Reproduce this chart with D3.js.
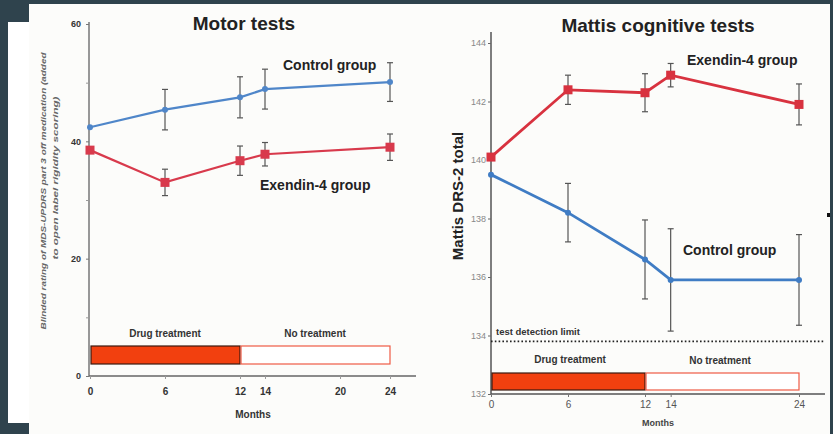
<!DOCTYPE html>
<html>
<head>
<meta charset="utf-8">
<script src="https://cdn.jsdelivr.net/npm/d3@7"></script>
<style>
body { margin: 0; background: #2f434d; }
svg { display: block; font-family: "Liberation Sans", Arial, sans-serif; }
</style>
</head>
<body>
<svg id="chart" width="833" height="434"></svg>
<script>
// data
var months = [0, 6, 12, 14, 24];

var motorControl = [42.4, 45.4, 47.5, 48.9, 50.1];
var motorControlErr = [0, 3.45, 3.5, 3.4, 3.3];
var motorExendin = [38.5, 33.0, 36.7, 37.8, 39.0];
var motorExendinErr = [0, 2.25, 2.5, 2.0, 2.25];

var mattisExendin = [140.1, 142.4, 142.3, 142.9, 141.9];
var mattisExendinErr = [0, 0.5, 0.65, 0.4, 0.7];
var mattisControl = [139.5, 138.2, 136.6, 135.9, 135.9];
var mattisControlErr = [0, 1.0, 1.35, 1.75, 1.55];

var motorYTicks = [0, 20, 40, 60];
var motorYMinor = [10, 30, 50];
var motorXTicks = [0, 6, 12, 14, 20, 24];
var mattisYTicks = [132, 134, 136, 138, 140, 142, 144];
var mattisXTicks = [0, 6, 12, 14, 24];

var detectionLimit = 133.8;
var drugPeriod = [0, 12];
var noDrugPeriod = [12, 24];

var blue = "#4f86c9";
var red = "#d83a4c";
var blue2 = "#3f7cc4";
var red2 = "#d8323f";
var barRed = "#f2400f";

var svg = d3.select("#chart");

// backdrop panels
svg.append("rect").attr("x", 8).attr("y", 22).attr("width", 21).attr("height", 401).attr("fill", "#ffffff");
svg.append("rect").attr("x", 29).attr("y", 4).attr("width", 801).attr("height", 430).attr("fill", "#fcfcfa");
svg.append("rect").attr("x", 827).attr("y", 213).attr("width", 3).attr("height", 4).attr("fill", "#111");

function drawSeries(g, x, y, vals, errs, color, shape, lw) {
	var pts = months.map(function(m, i) { return {m: m, v: vals[i], e: errs[i]}; });
	var eb = g.append("g").attr("stroke", "#555").attr("stroke-width", 1.2);
	pts.filter(function(d) { return d.e > 0; }).forEach(function(d) {
		eb.append("line").attr("x1", x(d.m)).attr("x2", x(d.m)).attr("y1", y(d.v - d.e)).attr("y2", y(d.v + d.e));
		eb.append("line").attr("x1", x(d.m) - 3).attr("x2", x(d.m) + 3).attr("y1", y(d.v - d.e)).attr("y2", y(d.v - d.e));
		eb.append("line").attr("x1", x(d.m) - 3).attr("x2", x(d.m) + 3).attr("y1", y(d.v + d.e)).attr("y2", y(d.v + d.e));
	});
	var line = d3.line().x(function(d) { return x(d.m); }).y(function(d) { return y(d.v); });
	g.append("path").datum(pts).attr("d", line).attr("fill", "none")
		.attr("stroke", color).attr("stroke-width", lw);
	if (shape == "square") {
		g.append("g").selectAll("rect").data(pts).enter().append("rect")
			.attr("x", function(d) { return x(d.m) - 4.5; })
			.attr("y", function(d) { return y(d.v) - 4.5; })
			.attr("width", 9).attr("height", 9).attr("fill", color);
	} else {
		g.append("g").selectAll("circle").data(pts).enter().append("circle")
			.attr("cx", function(d) { return x(d.m); })
			.attr("cy", function(d) { return y(d.v); })
			.attr("r", 3).attr("fill", color);
	}
}

function drawTreatment(g, x, yTop, h) {
	g.append("rect").attr("x", x(drugPeriod[0]) + 1).attr("y", yTop)
		.attr("width", x(drugPeriod[1]) - x(drugPeriod[0]) - 1).attr("height", h)
		.attr("fill", barRed).attr("stroke", "#3a1a10").attr("stroke-width", 1.2);
	g.append("rect").attr("x", x(noDrugPeriod[0]) + 1).attr("y", yTop)
		.attr("width", x(noDrugPeriod[1]) - x(noDrugPeriod[0]) - 1).attr("height", h)
		.attr("fill", "#fff").attr("stroke", "#ef5a45").attr("stroke-width", 1.2);
}

// ---------- Motor tests ----------
var x1 = d3.scaleLinear().domain([0, 24]).range([90, 390]);
var y1 = d3.scaleLinear().domain([0, 60]).range([376, 24]);
var g1 = svg.append("g");

var ax1 = g1.append("g").attr("transform", "translate(89,0)")
	.call(d3.axisLeft(y1).tickValues(motorYTicks).tickSize(3).tickPadding(5));
ax1.select(".domain").attr("d", "M0," + (y1(60) - 2) + "V" + y1(0)).attr("stroke", "#777").attr("stroke-width", 1.5);
ax1.selectAll(".tick line").attr("stroke", "#777");
ax1.selectAll("text").attr("font-size", 9).attr("font-weight", "bold").attr("fill", "#333");
g1.append("g").attr("transform", "translate(89,0)")
	.call(d3.axisLeft(y1).tickValues(motorYMinor).tickSize(3).tickFormat(""))
	.call(function(s) { s.select(".domain").remove(); s.selectAll("line").attr("stroke", "#999"); });

var bx1 = g1.append("g").attr("transform", "translate(0,376)")
	.call(d3.axisBottom(x1).tickValues(motorXTicks).tickSize(3).tickPadding(9));
bx1.select(".domain").attr("d", "M89,0H416").attr("stroke", "#666").attr("stroke-width", 1.5);
bx1.selectAll(".tick line").attr("stroke", "#999");
bx1.selectAll("text").attr("font-size", 10).attr("font-weight", "bold").attr("fill", "#333");

g1.append("text").attr("x", 253).attr("y", 418).attr("text-anchor", "middle")
	.attr("font-size", 10).attr("font-weight", "bold").attr("fill", "#333").text("Months");

g1.append("text").attr("x", 244).attr("y", 30).attr("text-anchor", "middle")
	.attr("font-size", 19).attr("font-weight", "bold").attr("fill", "#222").text("Motor tests");

g1.append("text").attr("transform", "translate(46,191) rotate(-90)")
	.attr("text-anchor", "middle").attr("font-size", 8).attr("font-style", "italic").attr("font-weight", "bold")
	.attr("fill", "#666").attr("textLength", 277).attr("lengthAdjust", "spacingAndGlyphs")
	.text("Blinded rating of MDS-UPDRS part 3 off medication (added");
g1.append("text").attr("transform", "translate(58,178) rotate(-90)")
	.attr("text-anchor", "middle").attr("font-size", 8).attr("font-style", "italic").attr("font-weight", "bold")
	.attr("fill", "#666").attr("textLength", 163).attr("lengthAdjust", "spacingAndGlyphs")
	.text("to open label rigidity scoring)");

drawSeries(g1, x1, y1, motorControl, motorControlErr, blue, "circle", 2.2);
drawSeries(g1, x1, y1, motorExendin, motorExendinErr, red, "square", 2.2);

g1.append("text").attr("x", 283).attr("y", 70).attr("font-size", 14).attr("font-weight", "bold").attr("fill", "#222").text("Control group");
g1.append("text").attr("x", 260).attr("y", 190).attr("font-size", 14).attr("font-weight", "bold").attr("fill", "#222").text("Exendin-4 group");

drawTreatment(g1, x1, 346, 18);
g1.append("text").attr("x", 165).attr("y", 337).attr("text-anchor", "middle").attr("font-size", 10).attr("font-weight", "bold").attr("fill", "#333").text("Drug treatment");
g1.append("text").attr("x", 315).attr("y", 337).attr("text-anchor", "middle").attr("font-size", 10).attr("font-weight", "bold").attr("fill", "#333").text("No treatment");

// ---------- Mattis cognitive tests ----------
var x2 = d3.scaleLinear().domain([0, 24]).range([491, 799]);
var y2 = d3.scaleLinear().domain([132, 144]).range([394, 43]);
var g2 = svg.append("g");

var ax2 = g2.append("g").attr("transform", "translate(491,0)")
	.call(d3.axisLeft(y2).tickValues(mattisYTicks).tickSize(3).tickPadding(2));
ax2.select(".domain").attr("d", "M0,32V" + y2(132)).attr("stroke", "#555").attr("stroke-width", 1.5);
ax2.selectAll(".tick line").attr("stroke", "#666");
ax2.selectAll("text").attr("font-size", 9).attr("fill", "#888");

var bx2 = g2.append("g").attr("transform", "translate(0,394)")
	.call(d3.axisBottom(x2).tickValues(mattisXTicks).tickSize(3).tickPadding(4));
bx2.select(".domain").attr("d", "M491,0H825").attr("stroke", "#555").attr("stroke-width", 1.5);
bx2.selectAll(".tick line").attr("stroke", "#777");
bx2.selectAll("text").attr("font-size", 10).attr("fill", "#555");

g2.append("text").attr("x", 658).attr("y", 426).attr("text-anchor", "middle")
	.attr("font-size", 9).attr("font-weight", "bold").attr("fill", "#444").text("Months");

g2.append("text").attr("x", 658).attr("y", 32).attr("text-anchor", "middle")
	.attr("font-size", 19).attr("font-weight", "bold").attr("fill", "#222").text("Mattis cognitive tests");

g2.append("text").attr("transform", "translate(463,196) rotate(-90)").attr("text-anchor", "middle")
	.attr("font-size", 15).attr("font-weight", "bold").attr("fill", "#222").text("Mattis DRS-2 total");

g2.append("line").attr("x1", 491).attr("x2", 825).attr("y1", y2(detectionLimit)).attr("y2", y2(detectionLimit))
	.attr("stroke", "#222").attr("stroke-width", 1.6).attr("stroke-dasharray", "1.6,2.2");
g2.append("text").attr("x", 496).attr("y", 335).attr("font-size", 9.5).attr("font-weight", "bold").attr("fill", "#333").text("test detection limit");

drawSeries(g2, x2, y2, mattisControl, mattisControlErr, blue2, "circle", 2.8);
drawSeries(g2, x2, y2, mattisExendin, mattisExendinErr, red2, "square", 2.8);

g2.append("text").attr("x", 687).attr("y", 65).attr("font-size", 14).attr("font-weight", "bold").attr("fill", "#222").text("Exendin-4 group");
g2.append("text").attr("x", 683).attr("y", 255).attr("font-size", 14).attr("font-weight", "bold").attr("fill", "#222").text("Control group");

drawTreatment(g2, x2, 373, 17);
g2.append("text").attr("x", 570).attr("y", 363).attr("text-anchor", "middle").attr("font-size", 10).attr("font-weight", "bold").attr("fill", "#333").text("Drug treatment");
g2.append("text").attr("x", 720).attr("y", 364).attr("text-anchor", "middle").attr("font-size", 10).attr("font-weight", "bold").attr("fill", "#333").text("No treatment");
</script>
</body>
</html>
